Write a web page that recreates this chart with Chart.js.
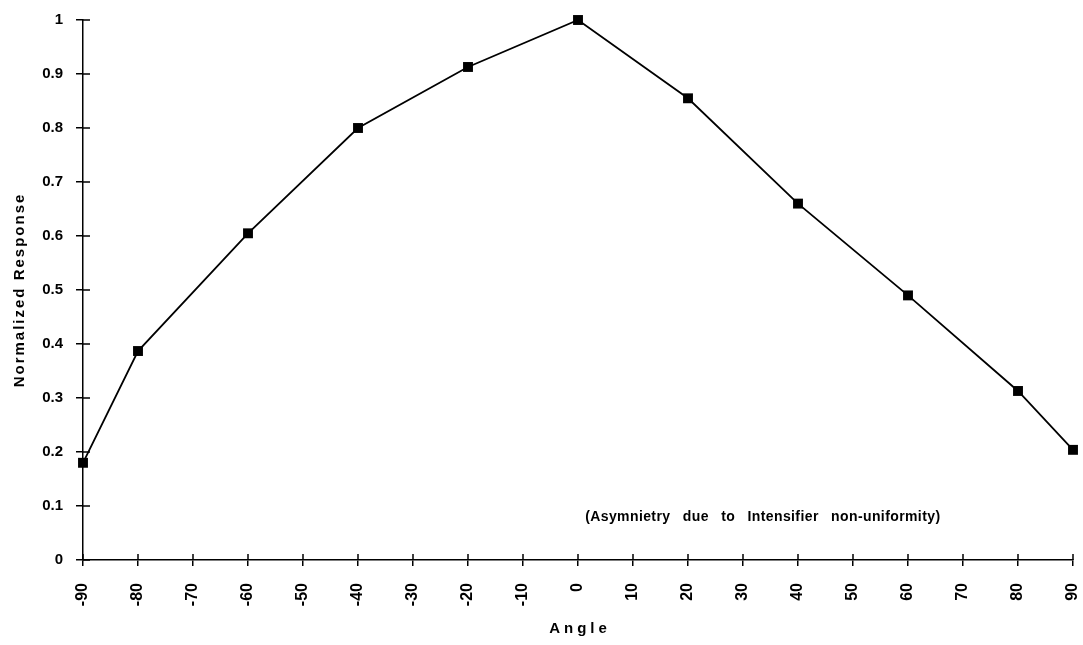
<!DOCTYPE html>
<html>
<head>
<meta charset="utf-8">
<script src="https://cdn.jsdelivr.net/npm/chart.js@4.4.1/dist/chart.umd.min.js"></script>
<style>
  html, body { margin: 0; padding: 0; background: #ffffff; }
  #wrap { width: 1083px; height: 645px; position: relative; }
</style>
</head>
<body>
<div id="wrap"><canvas id="angleChart" width="1083" height="645"></canvas></div>
<script>
// --- DATA ---
const angles = [-90, -80, -60, -40, -20, 0, 20, 40, 60, 80, 90];
const response = [0.18, 0.387, 0.605, 0.80, 0.913, 1.0, 0.855, 0.66, 0.49, 0.313, 0.204];
const xTitle = 'Angle';
const yTitle = 'Normalized Response';
const noteText = '(Asymnietry due to Intensifier non-uniformity)';
const noteAt = { x: 1.3, y: 0.08 };

const FONT = '"Liberation Sans", Arial, sans-serif';

// ticks that cross the axis lines (inner half) + titles with letter spacing
const extrasPlugin = {
    id: 'extras',
    afterDraw(chart) {
        const ctx = chart.ctx;
        const xs = chart.scales.x;
        const ys = chart.scales.y;
        const area = chart.chartArea;
        ctx.save();
        ctx.strokeStyle = '#000';
        ctx.lineWidth = 1.5;
        ctx.beginPath();
        xs.ticks.forEach(t => {
            const px = xs.getPixelForValue(t.value);
            ctx.moveTo(px, area.bottom);
            ctx.lineTo(px, area.bottom - 6);
        });
        ys.ticks.forEach(t => {
            const py = ys.getPixelForValue(t.value);
            ctx.moveTo(area.left, py);
            ctx.lineTo(area.left + 7, py);
        });
        ctx.stroke();

        ctx.fillStyle = '#000';
        ctx.textAlign = 'center';
        ctx.textBaseline = 'middle';

        // x title
        ctx.font = 'bold 15px ' + FONT;
        ctx.letterSpacing = '4px';
        ctx.fillText(xTitle, (area.left + area.right) / 2 + 2, 629);

        // y title
        ctx.save();
        ctx.translate(20, (area.top + area.bottom) / 2);
        ctx.rotate(-Math.PI / 2);
        ctx.letterSpacing = '2px';
        ctx.fillText(yTitle, 0, 0);
        ctx.restore();

        // note
        ctx.textAlign = 'left';
        ctx.letterSpacing = '0.4px';
        ctx.wordSpacing = '8px';
        ctx.font = 'bold 14px ' + FONT;
        ctx.fillText(noteText, xs.getPixelForValue(noteAt.x), ys.getPixelForValue(noteAt.y));
        ctx.restore();
    }
};

const ctx = document.getElementById('angleChart').getContext('2d');
new Chart(ctx, {
    type: 'line',
    data: {
        datasets: [{
            data: angles.map((a, i) => ({ x: a, y: response[i] })),
            borderColor: '#000',
            backgroundColor: '#000',
            borderWidth: 1.8,
            tension: 0,
            pointStyle: 'rect',
            pointRadius: 7,
            pointBorderWidth: 0,
            clip: false
        }]
    },
    options: {
        responsive: false,
        animation: false,
        layout: { padding: { top: 20, right: 10, left: 0, bottom: 0 } },
        plugins: { legend: { display: false }, tooltip: { enabled: false } },
        scales: {
            x: {
                type: 'linear',
                min: -90,
                max: 90,
                afterFit: s => { s.height = 85; s.paddingLeft = 0; s.paddingRight = 0; },
                grid: { drawOnChartArea: false, color: '#000', lineWidth: 1.5, tickLength: 6 },
                border: { color: '#000', width: 1.5 },
                ticks: {
                    stepSize: 10,
                    minRotation: 90,
                    maxRotation: 90,
                    padding: 17,
                    color: '#000',
                    font: { family: FONT, size: 16, weight: 'bold' }
                },
                title: { display: false }
            },
            y: {
                min: 0,
                max: 1,
                afterFit: s => { s.width = 83; s.paddingTop = 0; s.paddingBottom = 0; },
                grid: { drawOnChartArea: false, color: '#000', lineWidth: 1.5, tickLength: 7 },
                border: { color: '#000', width: 1.5 },
                ticks: {
                    stepSize: 0.1,
                    padding: 13,
                    color: '#000',
                    font: { family: FONT, size: 15, weight: 'bold' },
                    callback: v => Number(v.toFixed(1)).toString()
                },
                title: { display: false }
            }
        }
    },
    plugins: [extrasPlugin]
});
</script>
</body>
</html>
